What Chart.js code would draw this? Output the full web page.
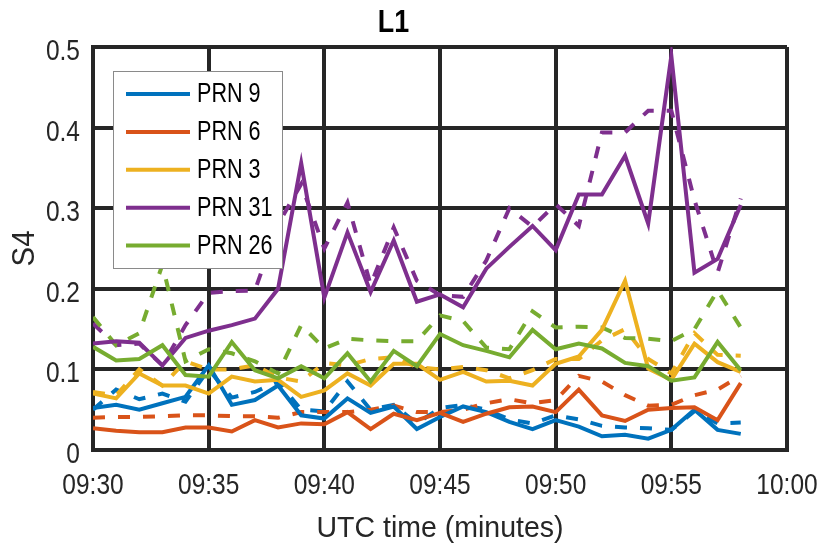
<!DOCTYPE html>
<html>
<head>
<meta charset="utf-8">
<script src="https://cdn.jsdelivr.net/npm/chart.js@4.4.1/dist/chart.umd.min.js"></script>
<style>
  html, body { margin: 0; padding: 0; background: #ffffff; }
  #wrap { width: 821px; height: 547px; position: relative; }
</style>
</head>
<body>
<div id="wrap"><canvas id="c" width="821" height="547"></canvas></div>
<script>
// ---- data ----
const times = ['09:30','09:31','09:32','09:33','09:34','09:35','09:36','09:37','09:38','09:39',
               '09:40','09:41','09:42','09:43','09:44','09:45','09:46','09:47','09:48','09:49',
               '09:50','09:51','09:52','09:53','09:54','09:55','09:56','09:57','09:58'];
const xTickLabels = ['09:30','09:35','09:40','09:45','09:50','09:55','10:00'];
const yTickLabels = ['0','0.1','0.2','0.3','0.4','0.5'];
const prnLabels = ['PRN 9','PRN 6','PRN 3','PRN 31','PRN 26'];
const chartTitle = 'L1';
const xTitle = 'UTC time (minutes)';
const yTitle = 'S4';

// solid lines
const prn9  = [0.052,0.056,0.050,0.058,0.066,0.105,0.056,0.062,0.080,0.043,0.039,0.064,0.046,0.054,0.026,0.041,0.054,0.047,0.035,0.026,0.037,0.029,0.017,0.019,0.014,0.025,0.050,0.025,0.020];
const prn6  = [0.027,0.024,0.022,0.022,0.028,0.028,0.023,0.037,0.028,0.033,0.032,0.047,0.026,0.045,0.037,0.046,0.035,0.045,0.053,0.054,0.047,0.075,0.043,0.036,0.050,0.052,0.053,0.037,0.083];
const prn3  = [0.070,0.064,0.095,0.080,0.080,0.070,0.091,0.085,0.087,0.066,0.074,0.095,0.080,0.107,0.107,0.087,0.097,0.085,0.086,0.080,0.107,0.116,0.149,0.210,0.101,0.087,0.132,0.109,0.097];
const prn31 = [0.132,0.135,0.133,0.105,0.139,0.148,0.155,0.163,0.200,0.356,0.189,0.270,0.196,0.260,0.184,0.193,0.177,0.225,0.252,0.278,0.248,0.317,0.317,0.365,0.281,0.489,0.220,0.237,0.304];
const prn26 = [0.128,0.111,0.113,0.130,0.093,0.091,0.134,0.099,0.089,0.104,0.089,0.120,0.085,0.123,0.104,0.144,0.130,0.123,0.115,0.149,0.125,0.132,0.126,0.108,0.104,0.086,0.090,0.134,0.099];
// dashed lines
const prn9d  = [0.050,0.075,0.063,0.070,0.060,0.100,0.065,0.072,0.085,0.050,0.048,0.085,0.050,0.056,0.033,0.052,0.056,0.050,0.038,0.033,0.043,0.038,0.030,0.028,0.027,0.025,0.048,0.033,0.034];
const prn6d  = [0.040,0.041,0.041,0.042,0.043,0.043,0.042,0.042,0.040,0.047,0.047,0.047,0.050,0.055,0.047,0.047,0.050,0.058,0.063,0.058,0.062,0.092,0.085,0.068,0.055,0.056,0.068,0.075,0.092];
const prn3d  = [0.072,0.068,0.100,0.080,0.110,0.100,0.100,0.105,0.090,0.085,0.108,0.105,0.113,0.115,0.103,0.100,0.103,0.099,0.089,0.099,0.113,0.113,0.136,0.150,0.113,0.095,0.145,0.118,0.117];
const prn31d = [0.157,0.130,0.132,0.105,0.155,0.195,0.197,0.198,0.280,0.330,0.250,0.307,0.205,0.276,0.210,0.192,0.190,0.235,0.300,0.277,0.305,0.278,0.394,0.394,0.421,0.421,0.310,0.220,0.312];
const prn26d = [0.165,0.130,0.145,0.230,0.110,0.125,0.120,0.110,0.095,0.155,0.126,0.138,0.136,0.135,0.135,0.167,0.160,0.127,0.125,0.172,0.152,0.153,0.152,0.139,0.138,0.135,0.150,0.198,0.152];

const colors = ['#0072BD','#D95319','#EDB120','#7E2F8E','#77AC30'];
const solidSeries = [prn9, prn6, prn3, prn31, prn26];
const dashedSeries = [prn9d, prn6d, prn3d, prn31d, prn26d];

// ---- helpers ----
const toMin = t => { const [h, m] = t.split(':').map(Number); return h * 60 + m - (9 * 60 + 30); };
const xs = times.map(toMin);
const pts = vals => vals.map((v, i) => ({ x: xs[i], y: v }));

const FONT = "'Liberation Sans', Arial, sans-serif";
const INK = '#262626';

// horizontal squeeze per text (the reference uses a narrow-looking face)
function squeezeOf(text) {
  if (text === xTitle) return 0.95;
  if (text === yTitle) return 0.92;
  if (text === chartTitle) return 0.84;
  if (prnLabels.includes(text)) return 0.8;
  return 0.845;
}
const squeezePlugin = {
  id: 'squeeze',
  beforeInit(chart) {
    const ctx = chart.ctx;
    const orig = ctx.fillText.bind(ctx);
    ctx.fillText = function (text, x, y, maxWidth) {
      const s = squeezeOf(String(text));
      ctx.save();
      ctx.translate(x, y);
      ctx.scale(s, 1);
      if (maxWidth === undefined) orig(text, 0, 0); else orig(text, 0, 0, maxWidth / s);
      ctx.restore();
    };
  }
};

const legendPlugin = {
  id: 'boxLegend',
  afterDraw(chart) {
    const ctx = chart.ctx;
    const ca = chart.chartArea;
    const bx = ca.left + 20, by = ca.top + 24, bw = 169, bh = 197;
    ctx.save();
    ctx.fillStyle = '#ffffff';
    ctx.fillRect(bx, by, bw, bh);
    ctx.strokeStyle = '#8a8a8a';
    ctx.lineWidth = 1;
    ctx.strokeRect(bx + 0.5, by + 0.5, bw, bh);
    ctx.font = '27px ' + FONT;
    ctx.textAlign = 'left';
    ctx.textBaseline = 'middle';
    prnLabels.forEach((lab, i) => {
      const y = by + 23 + i * 37.9;
      ctx.strokeStyle = colors[i];
      ctx.lineWidth = 4;
      ctx.beginPath();
      ctx.moveTo(bx + 13, y);
      ctx.lineTo(bx + 77, y);
      ctx.stroke();
      ctx.fillStyle = '#000000';
      ctx.fillText(lab, bx + 84, y + 1);
    });
    ctx.restore();
  }
};

const datasets = [];
solidSeries.forEach((s, i) => datasets.push({
  label: prnLabels[i], data: pts(s), borderColor: colors[i], backgroundColor: colors[i],
  borderWidth: 4, pointRadius: 0, tension: 0, order: 4 - i, fill: false
}));
dashedSeries.forEach((s, i) => datasets.push({
  label: prnLabels[i] + ' (dashed)', data: pts(s), borderColor: colors[i], backgroundColor: colors[i],
  borderWidth: 4, borderDash: [12, 13], pointRadius: 0, tension: 0, order: 10 - i, fill: false
}));

new Chart(document.getElementById('c'), {
  type: 'line',
  data: { datasets },
  plugins: [squeezePlugin, legendPlugin],
  options: {
    responsive: false,
    animation: false,
    devicePixelRatio: 1,
    layout: { padding: { left: 0, right: 34, top: 0, bottom: 0 } },
    plugins: {
      legend: { display: false },
      tooltip: { enabled: false },
      title: {
        display: true, text: chartTitle, color: '#000000',
        font: { family: FONT, size: 32, weight: 'bold', lineHeight: 1 },
        padding: { top: 7, bottom: 8 }
      }
    },
    scales: {
      x: {
        type: 'linear', min: 0, max: 30,
        afterFit: s => { s.height = 97; s.paddingLeft = 0; s.paddingRight = 0; },
        ticks: {
          stepSize: 5, autoSkip: false, maxRotation: 0, color: INK, padding: 19,
          font: { family: FONT, size: 29 },
          callback: v => xTickLabels[Math.round(v / 5)]
        },
        grid: { color: INK, lineWidth: 4, drawTicks: false },
        border: { display: true, color: INK, width: 4 },
        title: {
          display: true, text: xTitle, color: INK,
          font: { family: FONT, size: 30 }, padding: { top: 0, bottom: 0 }
        }
      },
      y: {
        min: 0, max: 0.5,
        afterFit: s => { s.width = 93; },
        ticks: {
          stepSize: 0.1, color: INK, padding: 13, labelOffset: 5,
          font: { family: FONT, size: 29 },
          callback: v => yTickLabels[Math.round(v * 10)]
        },
        grid: { color: INK, lineWidth: 4, drawTicks: false },
        border: { display: true, color: INK, width: 4 },
        title: {
          display: true, text: yTitle, color: INK,
          font: { family: FONT, size: 32 }, padding: { top: 6, bottom: 0 }
        }
      }
    }
  }
});
</script>
</body>
</html>
